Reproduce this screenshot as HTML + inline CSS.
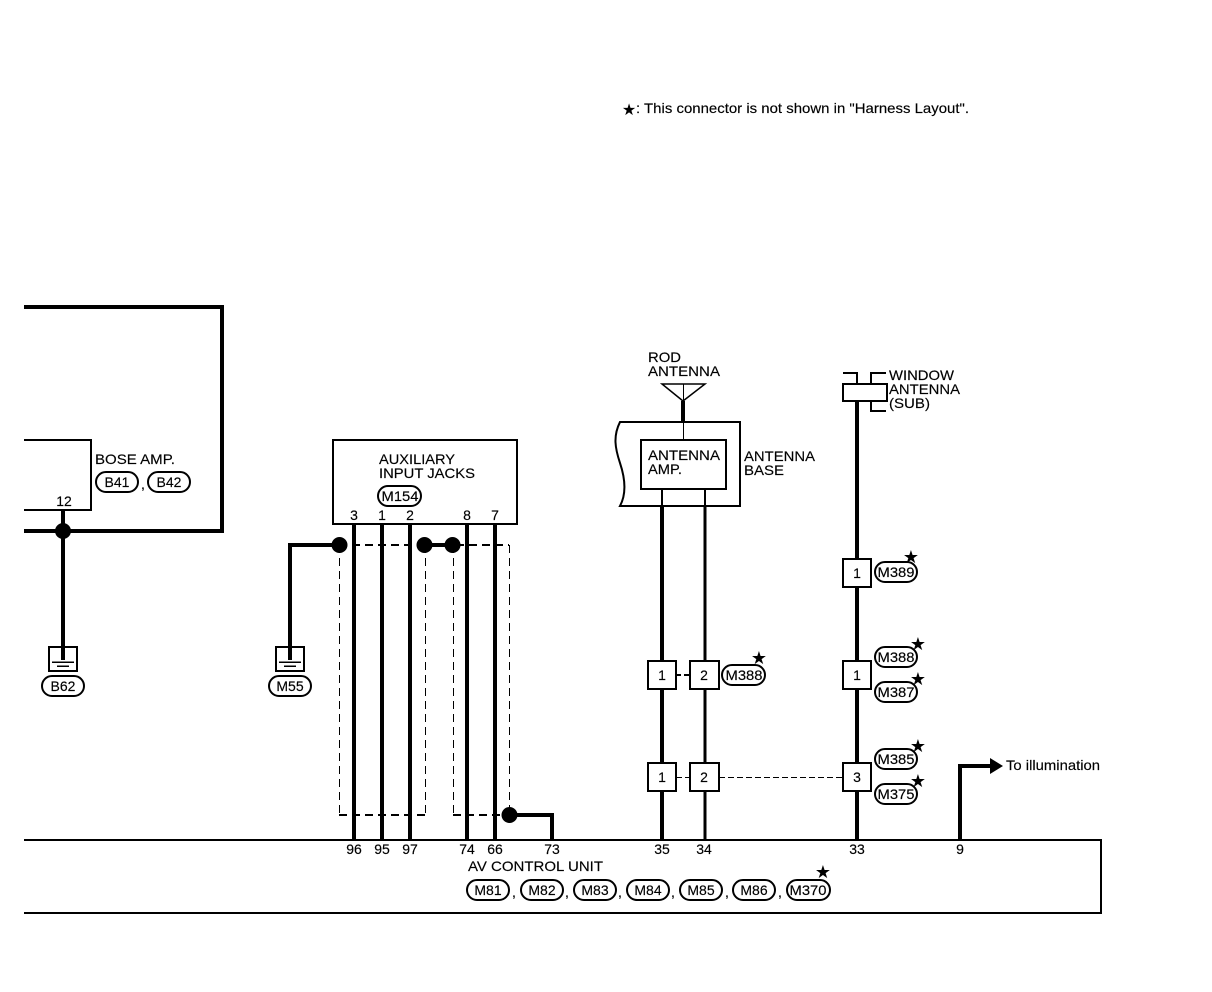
<!DOCTYPE html>
<html>
<head>
<meta charset="utf-8">
<style>
html,body{margin:0;padding:0;background:#fff}
svg{display:block}
text{font-family:"Liberation Sans",sans-serif;font-size:14px;fill:#000;stroke:#000;stroke-width:.15px}
.s{font-family:"DejaVu Sans",sans-serif;font-size:18px;text-anchor:middle;stroke-width:0}
.c{shape-rendering:crispEdges}
</style>
</head>
<body>
<svg width="1212" height="992" viewBox="0 0 1212 992" xmlns="http://www.w3.org/2000/svg">
<rect width="1212" height="992" fill="#fff"/>
<!-- note -->
<text class="s" x="629" y="115" style="font-size:16px">★</text>
<text x="636" y="113" textLength="333" lengthAdjust="spacingAndGlyphs">: This connector is not shown in "Harness Layout".</text>
<g fill="none" stroke="#000" class="c">
<!-- Bose -->
<path d="M24 307H222V531H24" stroke-width="4"/>
<path d="M24 440H91V510H24" stroke-width="2"/>
<path d="M63 510V660" stroke-width="4"/>
<rect x="49" y="647" width="28" height="24" stroke-width="2" fill="#fff"/>
<path d="M63 647V660" stroke-width="4"/>
<path d="M52 662H74M57 666H69" stroke-width="1.500"/>
<!-- M55 -->
<path d="M339 545H290V660" stroke-width="4"/>
<rect x="276" y="647" width="28" height="24" stroke-width="2" fill="#fff"/>
<path d="M290 647V660" stroke-width="4"/>
<path d="M279 662H301M284 666H296" stroke-width="1.500"/>
<!-- Aux -->
<rect x="333" y="440" width="184" height="84" stroke-width="2"/>
<path d="M339 545H509M453 815H509M339 815H425" stroke-width="2" stroke-dasharray="8 5"/>
<path d="M509.500 545V815M453.500 545V815M339.500 545V815M425.500 545V815" stroke-width="1" stroke-dasharray="8 5"/>
<path d="M354 524V840M382 524V840M410 524V840M467 524V840M495 524V840" stroke-width="4"/>
<path d="M424 545H452" stroke-width="4"/>
<path d="M509 815H552V840" stroke-width="4"/>
<!-- Rod antenna -->
<path d="M662 384H705L683 401Z" stroke-width="1.500" shape-rendering="auto"/>
<path d="M683.500 384V401" stroke-width="1"/>
<path d="M683 401V422" stroke-width="4"/>
<path d="M683.500 422V440" stroke-width="1"/>
<path d="M620 422H740V506H620C627 493 625 478 620 463C615 448 613 436 620 422Z" stroke-width="2" shape-rendering="auto"/>
<rect x="641" y="440" width="85" height="49" stroke-width="2"/>
<path d="M662 489V506M705 489V506" stroke-width="2"/>
<path d="M662 506V840" stroke-width="4"/>
<path d="M705 506V840" stroke-width="3"/>
<!-- Window antenna -->
<rect x="843" y="384" width="44" height="17" stroke-width="2"/>
<path d="M843 373H857V384M886 373H871V384M871 401V411H886" stroke-width="2"/>
<path d="M857 401V840" stroke-width="4"/>
<!-- dashed -->
<path d="M676 675H690" stroke-width="2" stroke-dasharray="5 3"/>
<path d="M676 777.500H690M719 777.500H843" stroke-width="1" stroke-dasharray="6 3"/>
<!-- illum -->
<path d="M960 840V766H992" stroke-width="4"/>
<!-- bottom -->
<path d="M24 840H1101V913H24" stroke-width="2"/>
</g>
<g fill="#000">
<circle cx="63" cy="531" r="8"/>
<circle cx="339.500" cy="545" r="8"/>
<circle cx="424.500" cy="545" r="8"/>
<circle cx="452.500" cy="545" r="8"/>
<circle cx="509.500" cy="815" r="8"/>
<path d="M990 758L1003 766L990 774Z"/>
</g>
<!-- connector squares -->
<g fill="#fff" stroke="#000" stroke-width="2" class="c">
<rect x="648" y="661" width="28" height="28"/>
<rect x="690" y="661" width="29" height="28"/>
<rect x="648" y="763" width="28" height="28"/>
<rect x="690" y="763" width="29" height="28"/>
<rect x="843" y="559" width="28" height="28"/>
<rect x="843" y="661" width="28" height="28"/>
<rect x="843" y="763" width="28" height="28"/>
</g>
<g text-anchor="middle">
<text x="662" y="680">1</text><text x="704" y="680">2</text>
<text x="662" y="782">1</text><text x="704" y="782">2</text>
<text x="857" y="578">1</text><text x="857" y="680">1</text><text x="857" y="782">3</text>
<text x="64" y="506">12</text>
<text x="354" y="520">3</text><text x="382" y="520">1</text><text x="410" y="520">2</text><text x="467" y="520">8</text><text x="495" y="520">7</text>
<text x="354" y="854">96</text><text x="382" y="854">95</text><text x="410" y="854">97</text><text x="467" y="854">74</text><text x="495" y="854">66</text><text x="552" y="854">73</text>
<text x="662" y="854">35</text><text x="704" y="854">34</text><text x="857" y="854">33</text><text x="960" y="854">9</text>
</g>
<!-- labels -->
<text x="95" y="464" textLength="80" lengthAdjust="spacingAndGlyphs">BOSE AMP.</text>
<text x="379" y="464" textLength="76" lengthAdjust="spacingAndGlyphs">AUXILIARY</text>
<text x="379" y="478" textLength="96" lengthAdjust="spacingAndGlyphs">INPUT JACKS</text>
<text x="648" y="362" textLength="33" lengthAdjust="spacingAndGlyphs">ROD</text>
<text x="648" y="376" textLength="72" lengthAdjust="spacingAndGlyphs">ANTENNA</text>
<text x="648" y="460" textLength="72" lengthAdjust="spacingAndGlyphs">ANTENNA</text>
<text x="648" y="474" textLength="34" lengthAdjust="spacingAndGlyphs">AMP.</text>
<text x="744" y="461" textLength="71" lengthAdjust="spacingAndGlyphs">ANTENNA</text>
<text x="744" y="475" textLength="40" lengthAdjust="spacingAndGlyphs">BASE</text>
<text x="889" y="380" textLength="65" lengthAdjust="spacingAndGlyphs">WINDOW</text>
<text x="889" y="394" textLength="71" lengthAdjust="spacingAndGlyphs">ANTENNA</text>
<text x="889" y="408" textLength="41" lengthAdjust="spacingAndGlyphs">(SUB)</text>
<text x="1006" y="770" textLength="94" lengthAdjust="spacingAndGlyphs">To illumination</text>
<text x="468" y="871" textLength="135" lengthAdjust="spacingAndGlyphs">AV CONTROL UNIT</text>
<!-- pills -->
<g fill="#fff" stroke="#000" stroke-width="2">
<rect x="96" y="472" width="42" height="20" rx="10"/>
<rect x="148" y="472" width="42" height="20" rx="10"/>
<rect x="42" y="676" width="42" height="20" rx="10"/>
<rect x="269" y="676" width="42" height="20" rx="10"/>
<rect x="378" y="486" width="43" height="20" rx="10"/>
<rect x="722" y="665" width="43" height="20" rx="10"/>
<rect x="875" y="562" width="42" height="20" rx="10"/>
<rect x="875" y="647" width="42" height="20" rx="10"/>
<rect x="875" y="682" width="42" height="20" rx="10"/>
<rect x="875" y="749" width="42" height="20" rx="10"/>
<rect x="875" y="784" width="42" height="20" rx="10"/>
<rect x="467" y="880" width="42" height="20" rx="10"/>
<rect x="521" y="880" width="42" height="20" rx="10"/>
<rect x="574" y="880" width="42" height="20" rx="10"/>
<rect x="627" y="880" width="42" height="20" rx="10"/>
<rect x="680" y="880" width="42" height="20" rx="10"/>
<rect x="733" y="880" width="42" height="20" rx="10"/>
<rect x="787" y="880" width="43" height="20" rx="10"/>
</g>
<g text-anchor="middle">
<text x="117" y="487">B41</text><text x="169" y="487">B42</text>
<text x="63" y="691">B62</text><text x="290" y="691">M55</text>
<text x="400" y="501" textLength="37" lengthAdjust="spacingAndGlyphs">M154</text>
<text x="744" y="680" textLength="37" lengthAdjust="spacingAndGlyphs">M388</text>
<text x="896" y="577" textLength="37" lengthAdjust="spacingAndGlyphs">M389</text>
<text x="896" y="662" textLength="37" lengthAdjust="spacingAndGlyphs">M388</text>
<text x="896" y="697" textLength="37" lengthAdjust="spacingAndGlyphs">M387</text>
<text x="896" y="764" textLength="37" lengthAdjust="spacingAndGlyphs">M385</text>
<text x="896" y="799" textLength="37" lengthAdjust="spacingAndGlyphs">M375</text>
<text x="488" y="895">M81</text><text x="542" y="895">M82</text><text x="595" y="895">M83</text><text x="648" y="895">M84</text><text x="701" y="895">M85</text><text x="754" y="895">M86</text>
<text x="808" y="895" textLength="37" lengthAdjust="spacingAndGlyphs">M370</text>
</g>
<text x="141" y="489">,</text>
<text x="512" y="897">,</text><text x="565" y="897">,</text><text x="618" y="897">,</text><text x="671" y="897">,</text><text x="725" y="897">,</text><text x="778" y="897">,</text>
<!-- stars -->
<text class="s" x="759" y="664">★</text>
<text class="s" x="911" y="563">★</text>
<text class="s" x="918" y="650">★</text>
<text class="s" x="918" y="685">★</text>
<text class="s" x="918" y="752">★</text>
<text class="s" x="918" y="787">★</text>
<text class="s" x="823" y="878">★</text>
</svg>
</body>
</html>
